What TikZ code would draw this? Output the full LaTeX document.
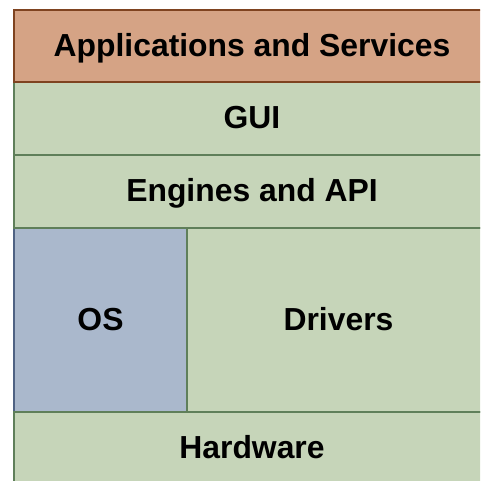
\documentclass[tikz,border=0pt]{standalone}
\usepackage{fontspec}
\setmainfont{Liberation Sans}
\usetikzlibrary{positioning}
\definecolor{appfill}{HTML}{D5A385}
\definecolor{appline}{HTML}{7F4320}
\definecolor{greenfill}{HTML}{C6D5B9}
\definecolor{greenline}{HTML}{5F7F5A}
\definecolor{osfill}{HTML}{AAB8CC}
\definecolor{osline}{HTML}{4F6283}
\begin{document}
\begin{tikzpicture}[x=0.75pt, y=-0.75pt, node distance=0pt]
    \tikzstyle{layer}=[
        rectangle, draw, line width=1.6pt, inner sep=0pt, outer sep=0pt,
        text height=21.5pt, text depth=6pt,
        font=\fontsize{23.9}{28}\selectfont\bfseries]
    \tikzstyle{applayer}=[layer, fill=appfill, draw=appline]
    \tikzstyle{greenlayer}=[layer, fill=greenfill, draw=greenline]
    \tikzstyle{oslayer}=[layer, fill=osfill, draw=osline]
    \useasboundingbox (0,0) rectangle (480,481);
    \clip (0,0) rectangle (480,481);

    \node [oslayer, minimum width=129.75pt, minimum height=138pt,
        anchor=north west] (os) at (14,228) {OS};
    \node [greenlayer, minimum width=357pt, minimum height=54.75pt,
        anchor=south west] (engines) at (os.north west) {Engines and API};
    \node [greenlayer, minimum width=357pt, minimum height=54.75pt,
        above=of engines] (gui) {GUI};
    \node [applayer, minimum width=357pt, minimum height=54pt,
        above=of gui] (apps) {Applications and Services};
    \node [greenlayer, minimum width=227.25pt, minimum height=138pt,
        right=of os] (drivers) {Drivers};
    \node [greenlayer, minimum width=357pt, minimum height=54pt,
        anchor=north west] (hardware) at (os.south west) {Hardware};
\end{tikzpicture}
\end{document}
